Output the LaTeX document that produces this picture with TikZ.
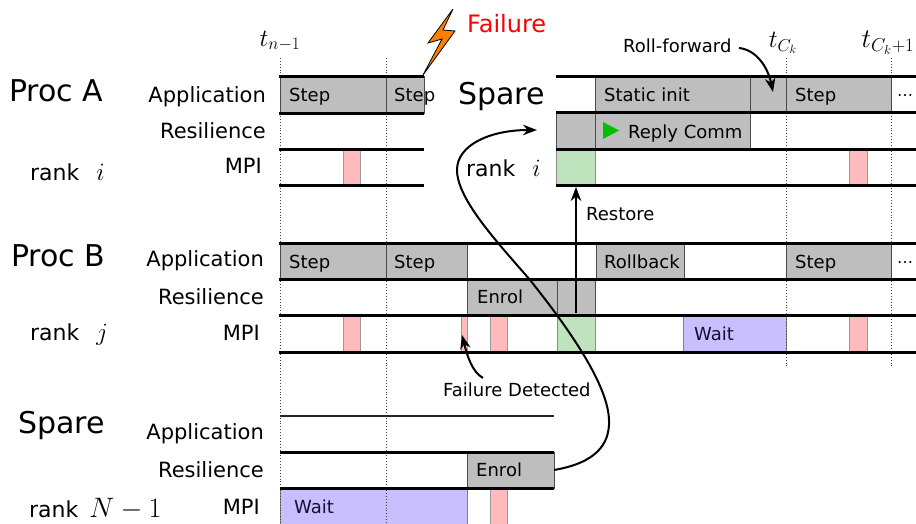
\documentclass[tikz,border=0pt]{standalone}
\usepackage{fontspec}
\usepackage{graphicx}
\setmainfont{DejaVu Sans}
\usetikzlibrary{arrows.meta}
\definecolor{boxgray}{HTML}{BEBEBE}
\definecolor{boxred}{HTML}{FFBBBB}
\definecolor{boxgreen}{HTML}{BFE3BD}
\definecolor{boxblue}{HTML}{C9BFFF}
\definecolor{waitink}{HTML}{140F33}
\tikzset{
  base/.style={anchor=north west,inner sep=0pt,outer sep=0pt,line width=0.7pt},
  grayb/.style={base,draw=black!70,fill=boxgray},
  redb/.style={base,draw=black!40,fill=boxred},
  greenb/.style={base,draw=black!45,fill=boxgreen},
  blueb/.style={base,draw=black!50,fill=boxblue},
  lane/.style={line width=2.8pt,black},
  thinlane/.style={line width=1.7pt,black!85},
  tick/.style={dotted,line width=0.9pt,black!75},
  flow/.style={line width=2pt,black,-{Stealth[length=14pt,width=10.5pt]}},
  big/.style={font=\fontsize{30}{34}\selectfont,inner sep=0pt},
  lab/.style={font=\fontsize{21}{24}\selectfont,inner sep=0pt,anchor=base east},
  rank/.style={font=\fontsize{22}{26}\selectfont,inner sep=0pt,anchor=base west},
  txt/.style={font=\fontsize{18}{21}\selectfont,inner sep=0pt,anchor=base west},
  small/.style={font=\fontsize{18}{21}\selectfont,inner sep=0pt},
  tlab/.style={font=\fontsize{24}{28}\selectfont,inner sep=0pt}
}
\newcommand{\bx}[6]{\node[#1,minimum width=#4pt-#2pt,minimum height=#5pt-#3pt] (#6) at (#2,#3) {};}
\newcommand{\bigmath}[2][1]{\scalebox{#1}{\fontsize{24.88}{28}\selectfont$#2$}}
\begin{document}
\begin{tikzpicture}[x=1pt,y=-1pt]
\useasboundingbox (0,0) rectangle (916,524);
% time ticks
\coordinate (t1a) at (280.5,58); \coordinate (t1b) at (280.5,524);
\coordinate (t2a) at (386,58); \coordinate (t2b) at (386,524);
\coordinate (t3a) at (786,58); \coordinate (t3b) at (786,368);
\coordinate (t4a) at (891,58); \coordinate (t4b) at (891,368);
% boxes Proc A
\bx{grayb}{280}{76}{386}{113}{astepa}
\bx{grayb}{386}{76}{424}{113}{astepb}
\bx{redb}{343}{150}{360}{186}{aredone}
% boxes Spare (right)
\bx{grayb}{595}{76}{750}{112}{sinit}
\bx{grayb}{750}{76}{786}{112}{sroll}
\bx{grayb}{786}{76}{891}{112}{sstep}
\bx{grayb}{556}{113}{595}{149}{sres}
\bx{grayb}{595}{113}{750}{149}{sreply}
\bx{greenb}{556}{149}{595}{185}{sgreen}
\bx{redb}{849}{150}{867}{185}{sred}
% boxes Proc B
\bx{grayb}{280}{243}{386}{279}{bstepa}
\bx{grayb}{386}{243}{467}{279}{bstepb}
\bx{grayb}{596}{243}{684}{279}{broll}
\bx{grayb}{786}{243}{891}{279}{bstepc}
\bx{grayb}{467}{279}{557}{316}{benrol}
\bx{grayb}{557}{279}{595}{316}{bgrey}
\bx{redb}{343}{316}{360}{352}{bredone}
\bx{redb}{461}{316}{467}{352}{bfail}
\bx{redb}{490}{316}{507}{352}{bredtwo}
\bx{greenb}{557}{316}{595}{352}{bgreen}
\bx{blueb}{683}{316}{786}{352}{bwait}
\bx{redb}{849}{316}{867}{352}{bredthree}
% boxes Spare (bottom)
\bx{grayb}{467}{452}{554}{488}{cenrol}
\bx{blueb}{280}{488}{467}{524}{cwait}
\bx{redb}{490}{488}{507}{524}{cred}
% ticks
\draw[tick] (t1a) -- (t1b);
\draw[tick] (t2a) -- (t2b);
\draw[tick] (t3a) -- (t3b);
\draw[tick] (t4a) -- (t4b);
% lanes
\foreach \y in {76.4,113.4,149.4,185.4} {\draw[lane] (279,\y) -- (424,\y);}
\foreach \y in {76.4,112.4,149.6,185.4} {\draw[lane] (556,\y) -- (916,\y);}
\foreach \y in {243.5,279.5,315.5,352.4} {\draw[lane] (279,\y) -- (916,\y);}
\draw[thinlane] (280,416) -- (554,416);
\foreach \y in {452.4,488.4} {\draw[lane] (280,\y) -- (554,\y);}
% lightning
\draw[fill=orange,draw=black,line width=0.8pt,line join=miter]
  (453,9) -- (428,43) -- (442,39) -- (423,75) -- (455,31) -- (443,30) -- cycle;
% triangle
\fill[green!75!black] (603,122) -- (619,130.5) -- (603,139) -- cycle;
% box texts
\foreach \x/\y/\t in {289/102/Step,394/102/Step,289/268/Step,394/268/Step,795/102/Step,795/268/Step,
  604/102/Static init,628/139/Reply Comm,604/268/Rollback,477/303/Enrol,476/476/Enrol}
  {\node[txt] (t\x\y) at (\x,\y) {\t};}
\node[txt,text=waitink] (wa) at (694,340) {Wait};
\node[txt,text=waitink] (wb) at (294,513) {Wait};
\node[txt,font=\fontsize{16}{18}\selectfont] (da) at (897,101) {⋯};
\node[txt,font=\fontsize{16}{18}\selectfont] (db) at (897,267) {⋯};
% row labels
\node[lab] (la) at (266,103) {Application};
\node[lab] (lb) at (266,139) {Resilience};
\node[lab] (lc) at (262,174) {MPI};
\node[lab] (ld) at (264,266) {Application};
\node[lab] (le) at (264,304) {Resilience};
\node[lab] (lf) at (260,340) {MPI};
\node[lab] (lg) at (264,439) {Application};
\node[lab] (lh) at (264,477) {Resilience};
\node[lab] (li) at (260,514) {MPI};
% big labels
\node[big,anchor=base west] (pa) at (9,102) {Proc A};
\node[big,anchor=base west] (pb) at (11,266) {Proc B};
\node[big,anchor=base west] (sa) at (458,105) {Spare};
\node[big,anchor=base west] (sb) at (18,433) {Spare};
\node[rank] (ra) at (30,180) {rank \ \hspace{3pt}\bigmath{i}};
\node[rank] (rb) at (466,176) {rank \ \hspace{3pt}\bigmath{i}};
\node[rank] (rc) at (30,340) {rank \ \hspace{3pt}\bigmath{j}};
\node[rank] (rd) at (29,517) {rank \hspace{4pt}\bigmath[1.13]{N-1}};
\node[font=\fontsize{24}{28}\selectfont,text=red,inner sep=0pt,anchor=base west] (fail) at (467,33) {Failure};
% time labels
\node[tlab] (ta) at (280,41) {$t_{n-1}$};
\node[tlab] (tb) at (783,43) {$t_{C_k}$};
\node[tlab] (tc) at (888,43) {\scalebox{1.08}{$t_{C_k+1}$}};
% small labels
\node[small,anchor=base west] (rf) at (623,53) {Roll-forward};
\node[small,anchor=base west] (rs) at (586,220) {Restore};
\node[small,anchor=base west] (fd) at (443,396) {Failure Detected};
% arrows
\coordinate (rfstart) at (739,48);
\coordinate (rfend) at (773,92);
\coordinate (fdstart) at (483,378);
\coordinate (fdend) at (462,335);
\coordinate (restart) at (576,313);
\coordinate (resend) at (576,187);
\coordinate (enrolback) at (537,130);
\draw[flow] (rfstart) .. controls (757,50) and (768,68) .. (rfend);
\draw[flow] (fdstart) .. controls (472,372) and (467,355) .. (fdend);
\draw[flow] (restart) -- (resend);
\draw[flow] (cenrol.east) .. controls (595,463) and (610,445) .. (609,420)
  .. controls (608,385) and (570,330) .. (530,280)
  .. controls (500,245) and (457,200) .. (457,170)
  .. controls (457,145) and (490,130) .. (enrolback);
\end{tikzpicture}
\end{document}
